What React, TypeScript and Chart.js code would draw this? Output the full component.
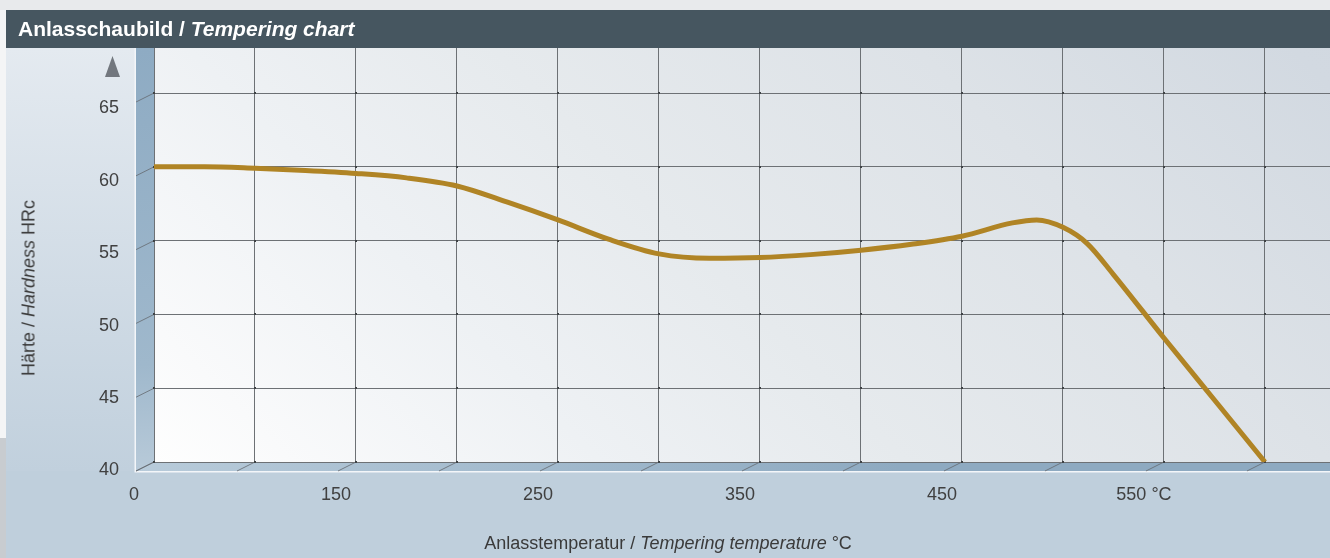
import React, { useEffect, useRef } from 'react';
import { Chart, registerables } from 'chart.js';

Chart.register(...registerables);

// ---- data ----
const temperatures = [50, 75, 100, 125, 150, 175, 200, 225, 250, 275, 300, 325, 350, 375, 400, 425, 450, 475, 487, 500, 512, 525, 550, 575, 600];
const hardness = [60.0, 60.0, 59.9, 59.75, 59.55, 59.25, 58.7, 57.6, 56.4, 55.1, 54.1, 53.8, 53.85, 54.05, 54.35, 54.75, 55.3, 56.2, 56.4, 55.9, 54.8, 52.7, 48.4, 44.2, 40.0];

const xTickValues = [50, 100, 150, 200, 250, 300, 350, 400, 450, 500, 550, 600];
const xTickLabels = ['0', '', '150', '', '250', '', '350', '', '450', '', '550 °C', ''];
const yTickValues = [40, 45, 50, 55, 60, 65];
const yTickLabels = ['40', '45', '50', '55', '60', '65'];

const FONT = '"Liberation Sans", Arial, Helvetica, sans-serif';
const DEPTH_X = 18;
const DEPTH_Y = 9;
const GRID = '#6d7175';

const scenePlugin = {
  id: 'scene3d',
  beforeDraw(chart: any) {
    const { ctx, chartArea: a, width: W, height: H } = chart;
    ctx.save();
    // page background
    const g = ctx.createLinearGradient(0, a.top, 0, a.bottom + DEPTH_Y);
    g.addColorStop(0, '#e4eaf0');
    g.addColorStop(1, '#c1d0dd');
    ctx.fillStyle = g;
    ctx.fillRect(0, 0, W, H);
    ctx.fillStyle = '#bfcfdc';
    ctx.fillRect(0, a.bottom + DEPTH_Y, W, H - a.bottom - DEPTH_Y);
    // top band
    ctx.fillStyle = '#e8eaec';
    ctx.fillRect(0, 0, W, 10);
    // left strip
    ctx.fillStyle = '#f4f5f6';
    ctx.fillRect(0, 10, 6, 428);
    ctx.fillStyle = '#c8ccd0';
    ctx.fillRect(0, 438, 6, H - 438);
    // title bar
    ctx.fillStyle = '#465660';
    ctx.fillRect(6, 10, W - 6, a.top - 10);

    // plot face
    const span = a.right - a.left;
    const pg = ctx.createLinearGradient(a.left, a.bottom, a.left + span, a.bottom - span);
    pg.addColorStop(0, '#fefefe');
    pg.addColorStop(0.19, '#eef1f4');
    pg.addColorStop(0.32, '#e6eaed');
    pg.addColorStop(0.5, '#dde2e7');
    pg.addColorStop(0.66, '#d2d9e1');
    pg.addColorStop(1, '#c8d0d9');
    ctx.fillStyle = pg;
    ctx.fillRect(a.left, a.top, span, a.bottom - a.top);

    // left wall
    const wg = ctx.createLinearGradient(0, a.top, 0, a.bottom + DEPTH_Y);
    wg.addColorStop(0, '#8eabc3');
    wg.addColorStop(0.75, '#9fb8cc');
    wg.addColorStop(1, '#b8cad9');
    ctx.fillStyle = wg;
    ctx.beginPath();
    ctx.moveTo(a.left - DEPTH_X, a.top);
    ctx.lineTo(a.left, a.top);
    ctx.lineTo(a.left, a.bottom);
    ctx.lineTo(a.left - DEPTH_X, a.bottom + DEPTH_Y);
    ctx.closePath();
    ctx.fill();

    // floor
    const fg = ctx.createLinearGradient(a.left - DEPTH_X, 0, 900, 0);
    fg.addColorStop(0, '#b8cbda');
    fg.addColorStop(1, '#8eaac1');
    ctx.fillStyle = fg;
    ctx.beginPath();
    ctx.moveTo(a.left - DEPTH_X, a.bottom + DEPTH_Y);
    ctx.lineTo(a.left, a.bottom);
    ctx.lineTo(a.right, a.bottom);
    ctx.lineTo(a.right, a.bottom + DEPTH_Y);
    ctx.closePath();
    ctx.fill();

    // white front edges
    ctx.strokeStyle = '#f3f6f9';
    ctx.lineWidth = 1.5;
    ctx.beginPath();
    ctx.moveTo(a.left - DEPTH_X - 0.75, a.top);
    ctx.lineTo(a.left - DEPTH_X - 0.75, a.bottom + DEPTH_Y + 0.75);
    ctx.lineTo(a.right, a.bottom + DEPTH_Y + 0.75);
    ctx.stroke();

    // depth lines
    const xs = chart.scales.x;
    const ys = chart.scales.y;
    ctx.strokeStyle = '#646a70';
    ctx.lineWidth = 0.8;
    ctx.beginPath();
    yTickValues.forEach((v) => {
      const py = ys.getPixelForValue(v);
      ctx.moveTo(a.left - DEPTH_X, py + DEPTH_Y);
      ctx.lineTo(a.left, py);
    });
    xTickValues.forEach((v) => {
      const px = xs.getPixelForValue(v);
      ctx.moveTo(px - DEPTH_X, a.bottom + DEPTH_Y);
      ctx.lineTo(px, a.bottom);
    });
    ctx.stroke();

    // axis arrow
    ctx.fillStyle = '#72777e';
    ctx.beginPath();
    ctx.moveTo(105, 77);
    ctx.lineTo(120, 77);
    ctx.lineTo(112.5, 56);
    ctx.closePath();
    ctx.fill();
    ctx.restore();
  },
  beforeDatasetsDraw(chart: any) {
    const { ctx } = chart;
    const xs = chart.scales.x;
    const ys = chart.scales.y;
    ctx.save();
    ctx.fillStyle = '#3e4245';
    xTickValues.forEach((xv) => {
      yTickValues.forEach((yv) => {
        const px = Math.round(xs.getPixelForValue(xv));
        const py = Math.round(ys.getPixelForValue(yv));
        ctx.fillRect(px - 1, py - 1, 2, 2);
      });
    });
    ctx.restore();
  },
};

export default function App() {
  const ref = useRef<HTMLCanvasElement>(null);

  useEffect(() => {
    const canvas = ref.current;
    if (!canvas) return;
    const chart = new Chart(canvas, {
      type: 'line',
      data: {
        datasets: [
          {
            data: temperatures.map((t, i) => ({ x: t, y: hardness[i] })),
            borderColor: '#b08425',
            borderWidth: 5,
            pointRadius: 0,
            fill: false,
            cubicInterpolationMode: 'monotone',
          },
        ],
      },
      options: {
        responsive: false,
        animation: false,
        devicePixelRatio: 1,
        layout: { padding: { top: 48, left: 0, right: 0, bottom: 0 } },
        plugins: {
          legend: { display: false },
          tooltip: { enabled: false },
          title: { display: false },
        },
        scales: {
          x: {
            type: 'linear',
            position: 'bottom',
            min: 50,
            max: 632.2,
            bounds: 'data',
            afterBuildTicks: (s: any) => {
              s.ticks = xTickValues.map((v) => ({ value: v }));
            },
            afterFit: (s: any) => {
              s.height = 96;
            },
            grid: { color: GRID, lineWidth: 1, drawTicks: false },
            border: { display: false },
            ticks: {
              autoSkip: false,
              maxRotation: 0,
              padding: 22,
              labelOffset: -20,
              color: '#404040',
              font: { family: FONT, size: 18 },
              callback: (_v: any, i: number) => xTickLabels[i] ?? '',
            },
          },
          y: {
            type: 'linear',
            position: 'left',
            min: 40,
            max: 68.05,
            bounds: 'data',
            weight: 0,
            afterBuildTicks: (s: any) => {
              s.ticks = yTickValues.map((v) => ({ value: v }));
            },
            afterFit: (s: any) => {
              s.width = 0;
            },
            grid: { color: GRID, lineWidth: 1, drawTicks: false },
            border: { display: false },
            ticks: { display: false },
          },
          y2: {
            type: 'linear',
            position: 'left',
            min: 40.574,
            max: 69.18,
            bounds: 'data',
            weight: 10,
            afterBuildTicks: (s: any) => {
              s.ticks = yTickValues.map((v) => ({ value: v }));
            },
            afterFit: (s: any) => {
              s.width = 154;
            },
            grid: { display: false, drawTicks: false },
            border: { display: false },
            ticks: {
              autoSkip: false,
              padding: 35,
              color: '#404040',
              font: { family: FONT, size: 18 },
              callback: (_v: any, i: number) => yTickLabels[i] ?? '',
            },
          },
        },
      },
      plugins: [scenePlugin],
    } as any);
    return () => chart.destroy();
  }, []);

  return (
    <div
      style={{
        position: 'absolute',
        left: 0,
        top: 0,
        width: 1330,
        height: 558,
        overflow: 'hidden',
        fontFamily: FONT,
      }}
    >
      <canvas ref={ref} width={1330} height={558} style={{ display: 'block', width: 1330, height: 558 }} />
      <div
        style={{
          position: 'absolute',
          left: 18,
          top: 10,
          height: 38,
          lineHeight: '38px',
          color: '#ffffff',
          fontWeight: 'bold',
          fontSize: 21,
          whiteSpace: 'nowrap',
        }}
      >
        Anlasschaubild / <i>Tempering chart</i>
      </div>
      <div
        style={{
          position: 'absolute',
          left: 29,
          top: 288,
          transform: 'translate(-50%, -50%) rotate(-90deg)',
          color: '#3a3a3a',
          fontSize: 18,
          whiteSpace: 'nowrap',
        }}
      >
        Härte / <i>Hardness</i> HRc
      </div>
      <div
        style={{
          position: 'absolute',
          left: 668,
          top: 543,
          transform: 'translate(-50%, -50%)',
          color: '#3a3a3a',
          fontSize: 18,
          whiteSpace: 'nowrap',
        }}
      >
        Anlasstemperatur / <i>Tempering temperature</i> °C
      </div>
    </div>
  );
}
